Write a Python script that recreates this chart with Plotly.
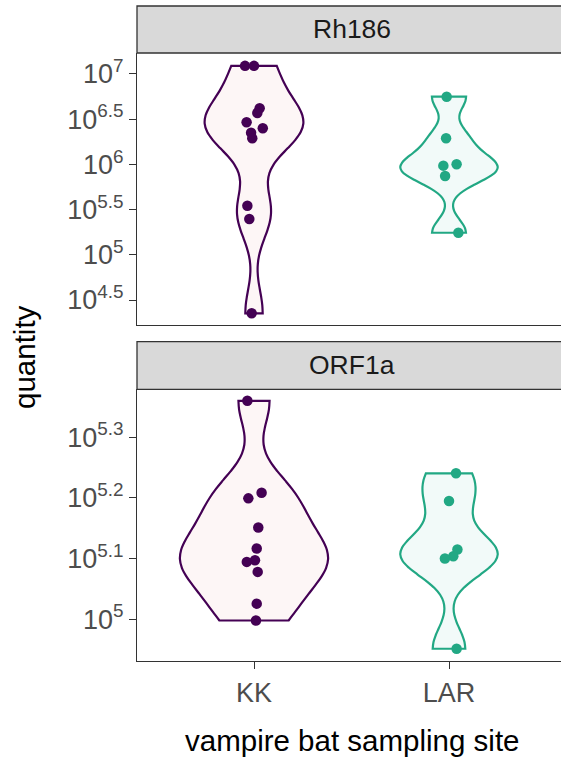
import numpy as np
import plotly.graph_objects as go

W, H = 561, 757

# ---- data (log10 of quantity) ----
sites = ["KK", "LAR"]
site_pos = [0, 1]

rh186_kk = [7.09, 7.09, 6.621, 6.569, 6.466, 6.399, 6.351, 6.289, 5.543, 5.396, 4.353]
rh186_kk_jit = [-0.046, 0.0, 0.029, 0.017, -0.038, 0.045, -0.015, -0.009, -0.034, -0.024, -0.012]
rh186_lar = [6.749, 6.289, 6.001, 5.986, 5.872, 5.244]
rh186_lar_jit = [-0.012, -0.015, 0.039, -0.029, -0.02, 0.048]

orf1a_kk = [5.360, 5.2084, 5.1992, 5.1512, 5.1165, 5.0972, 5.0944, 5.0779, 5.0256, 4.9978]
orf1a_kk_jit = [-0.034, 0.039, -0.029, 0.022, 0.014, 0.005, -0.037, 0.019, 0.014, 0.010]
orf1a_lar = [5.2405, 5.1947, 5.1149, 5.1038, 5.1, 4.9512]
orf1a_lar_jit = [0.036, 0.0, 0.043, 0.022, -0.021, 0.039]

rh186_ticks = [4.5, 5, 5.5, 6, 6.5, 7]
orf1a_ticks = [5, 5.1, 5.2, 5.3]

# ---- styling ----
col_line = {"KK": "#440154", "LAR": "#22A884"}
col_fill = {"KK": "#FDF6F6", "LAR": "#F2FAF9"}
violin_width = {("Rh186", "KK"): 0.506, ("Rh186", "LAR"): 0.50,
                ("ORF1a", "KK"): 0.76, ("ORF1a", "LAR"): 0.50}


def nrd0(v):
    v = np.asarray(v, float)
    sd = np.std(v, ddof=1)
    iqr = np.subtract(*np.percentile(v, [75, 25]))
    lo = min(sd, iqr / 1.34)
    return 0.9 * lo * len(v) ** (-0.2)


def px_x(p):
    return p / W


def px_y(p):
    return 1 - p / H


fig = go.Figure()

panels = [
    ("Rh186", "x", "y", {"KK": (rh186_kk, rh186_kk_jit), "LAR": (rh186_lar, rh186_lar_jit)}),
    ("ORF1a", "x2", "y2", {"KK": (orf1a_kk, orf1a_kk_jit), "LAR": (orf1a_lar, orf1a_lar_jit)}),
]

for gene, xa, ya, groups in panels:
    for site, pos in zip(sites, site_pos):
        vals, jit = groups[site]
        fig.add_trace(go.Violin(
            x=[pos] * len(vals), y=vals, xaxis=xa, yaxis=ya,
            width=violin_width[(gene, site)], bandwidth=nrd0(vals),
            spanmode="hard", points=False, scalemode="width", side="both",
            line=dict(color=col_line[site], width=2.2), fillcolor=col_fill[site],
            box=dict(visible=False), meanline=dict(visible=False),
            showlegend=False, hoverinfo="skip", name=site))
    for site, pos in zip(sites, site_pos):
        vals, jit = groups[site]
        fig.add_trace(go.Scatter(
            x=[pos + j for j in jit], y=vals, xaxis=xa, yaxis=ya, mode="markers",
            marker=dict(color=col_line[site], size=10.5, line=dict(width=0)),
            showlegend=False, hoverinfo="skip"))

# geometry (pixels)
pl_left = 137
top_strip = (6, 53)
top_panel = (53, 325)
bot_strip = (341.7, 389.3)
bot_panel = (389.3, 661)
xrange = [-0.6, 1 + (W - 449) / 195.0]

FONT = "Liberation Sans"
axis_common = dict(showgrid=False, zeroline=False, showline=True, linecolor="#333333",
                   linewidth=1.3, ticks="outside", ticklen=7, tickwidth=1.3,
                   tickcolor="#333333", tickfont=dict(family=FONT, size=27, color="#4D4D4D"))

fig.update_layout(
    width=W, height=H, margin=dict(l=0, r=0, t=0, b=0),
    paper_bgcolor="white", plot_bgcolor="white", violinmode="overlay",
    xaxis=dict(domain=[px_x(pl_left), 1], range=xrange, anchor="y",
               showticklabels=False, ticks="", showgrid=False, zeroline=False,
               showline=True, linecolor="#333333", linewidth=1.3),
    xaxis2=dict(domain=[px_x(pl_left), 1], range=xrange, anchor="y2",
                tickvals=site_pos, ticktext=sites, **axis_common),
    yaxis=dict(domain=[px_y(top_panel[1]), px_y(top_panel[0])], anchor="x",
               range=[4.2235, 7.232], tickvals=rh186_ticks,
               ticktext=["10<sup>%g</sup>" % t for t in rh186_ticks], **axis_common),
    yaxis2=dict(domain=[px_y(bot_panel[1]), px_y(bot_panel[0])], anchor="x2",
                range=[4.931, 5.379], tickvals=orf1a_ticks,
                ticktext=["10<sup>%g</sup>" % t for t in orf1a_ticks], **axis_common),
)

shapes = []
annotations = []
cx = (pl_left + 566) / 2
for (s0, s1), label in [(top_strip, "Rh186"), (bot_strip, "ORF1a")]:
    shapes.append(dict(type="rect", xref="paper", yref="paper",
                       x0=px_x(pl_left), x1=px_x(W + 10), y0=px_y(s1), y1=px_y(s0),
                       fillcolor="#D9D9D9", line=dict(color="#333333", width=1.3), layer="above"))
    annotations.append(dict(text=label, xref="paper", yref="paper", x=px_x(cx),
                            y=px_y((s0 + s1) / 2), showarrow=False, xanchor="center", yanchor="middle",
                            font=dict(family=FONT, size=26.5, color="#1A1A1A")))

annotations.append(dict(text="vampire bat sampling site", xref="paper", yref="paper",
                        x=px_x(cx), y=px_y(740), showarrow=False, xanchor="center", yanchor="middle",
                        font=dict(family=FONT, size=29.5, color="#000000")))
annotations.append(dict(text="quantity", xref="paper", yref="paper", textangle=-90,
                        x=px_x(25), y=px_y(357), showarrow=False, xanchor="center", yanchor="middle",
                        font=dict(family=FONT, size=29.5, color="#000000")))

fig.update_layout(shapes=shapes, annotations=annotations)

fig.write_html("out.html")
